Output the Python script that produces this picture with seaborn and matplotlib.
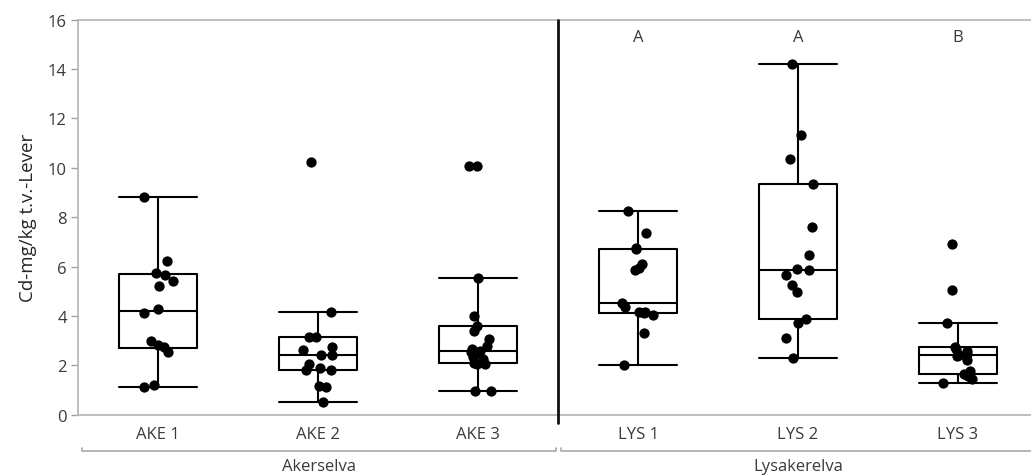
import numpy as np
import pandas as pd
import matplotlib
matplotlib.use("Agg")
import matplotlib.pyplot as plt
import seaborn as sns

# ---- data ----
categories = ["AKE 1", "AKE 2", "AKE 3", "LYS 1", "LYS 2", "LYS 3"]
groups = ["Akerselva", "Lysakerelva"]
ake1 = [8.83, 6.21, 5.75, 5.67, 5.40, 5.21, 4.29, 4.12, 2.97, 2.83, 2.74, 2.53, 1.22, 1.11]
ake2 = [10.25, 4.16, 3.14, 3.14, 2.74, 2.64, 2.42, 2.42, 2.06, 1.88, 1.83, 1.80, 1.18, 1.11, 0.53]
ake3 = [10.09, 10.09, 5.54, 4.00, 3.60, 3.40, 3.05, 2.80, 2.67, 2.60, 2.56, 2.50, 2.33, 2.26,
        2.10, 2.06, 2.06, 0.98, 0.98]
lys1 = [8.26, 7.38, 6.76, 6.70, 6.12, 5.94, 5.85, 4.52, 4.36, 4.18, 4.18, 4.10, 4.02, 3.30, 2.02]
lys2 = [14.21, 11.33, 10.36, 9.34, 7.61, 6.46, 5.89, 5.85, 5.64, 5.27, 4.97, 3.86, 3.72, 3.10, 2.29]
lys3 = [6.93, 5.04, 3.72, 2.74, 2.67, 2.60, 2.45, 2.42, 2.37, 2.23, 1.75, 1.65, 1.55, 1.45, 1.29]
letters = ["", "", "", "A", "A", "B"]
yticks = [0, 2, 4, 6, 8, 10, 12, 14, 16]
ylabel = "Cd-mg/kg t.v.-Lever"

series = [ake1, ake2, ake3, lys1, lys2, lys3]
df = pd.DataFrame({
    "site": np.concatenate([[c] * len(v) for c, v in zip(categories, series)]),
    "value": np.concatenate(series),
})

sns.set_theme(style="white")
plt.rcParams["font.family"] = ["Open Sans", "DejaVu Sans"]

W, H = 1031, 477
fig = plt.figure(figsize=(W / 100, H / 100), dpi=100)
left_px, top_px, bottom_px = 78, 20.7, 415.7
ax = fig.add_axes([left_px / W, (H - bottom_px) / H, 1 - left_px / W, (bottom_px - top_px) / H])

np.random.seed(7)
sns.stripplot(data=df, x="site", y="value", order=categories, ax=ax,
              color="black", size=7.4, jitter=0.1, linewidth=0, zorder=5)

# box statistics (quantiles as in JMP: (n+1)p rule)
stats = []
for name in categories:
    v = df.loc[df.site == name, "value"].to_numpy()
    q1, med, q3 = np.percentile(v, [25, 50, 75], method="weibull")
    iqr = q3 - q1
    stats.append(dict(label=name, med=med, q1=q1, q3=q3,
                      whislo=v[v >= q1 - 1.5 * iqr].min(),
                      whishi=v[v <= q3 + 1.5 * iqr].max(), fliers=[]))
lp = dict(color="black", linewidth=1.5)
ax.bxp(stats, positions=range(len(categories)), widths=0.49, capwidths=0.49,
       showfliers=False, manage_ticks=False, boxprops=lp, whiskerprops=lp,
       capprops=lp, medianprops=lp)

ax.set_ylim(0, 16)
ax.set_xlim(-0.5, -0.5 + (W - left_px) / 160)
ax.set_xticks(range(len(categories)), categories)
ax.set_yticks(yticks)
ax.set_xlabel("")
ax.set_ylabel(ylabel, fontsize=13.5, color="#262626", labelpad=8)
ax.tick_params(axis="y", length=5, width=1, color="#a0a0a0", labelsize=12,
               labelcolor="#3a3a3a", left=True, pad=3)
ax.tick_params(axis="x", length=0, labelsize=12, labelcolor="#3a3a3a", pad=8)
for s in ["left", "top", "bottom"]:
    ax.spines[s].set_color("#b4b4b4")
    ax.spines[s].set_linewidth(1.2)
ax.spines["right"].set_visible(False)

# group divider
ax.plot([2.5, 2.5], [16, -0.34], color="#111111", lw=2, clip_on=False, zorder=6)

# letters
for i, t in enumerate(letters):
    if t:
        ax.text(i, 15.3, t, ha="center", va="center", fontsize=12, color="#3a3a3a")

# group brackets
yb, yt = -1.474, -1.33
spans = [(-0.475, 2.4875), (2.519, 5.5)]
for (a, b), g in zip(spans, groups):
    ax.plot([a, a, b, b], [yt, yb, yb, yt], color="#a8a8a8", lw=1.2, clip_on=False)
    ax.text((a + b) / 2 if b < 5 else 4.0, -2.08, g, ha="center", va="center",
            fontsize=12, color="#3a3a3a")

fig.savefig("out.png", dpi=100, facecolor="white")
